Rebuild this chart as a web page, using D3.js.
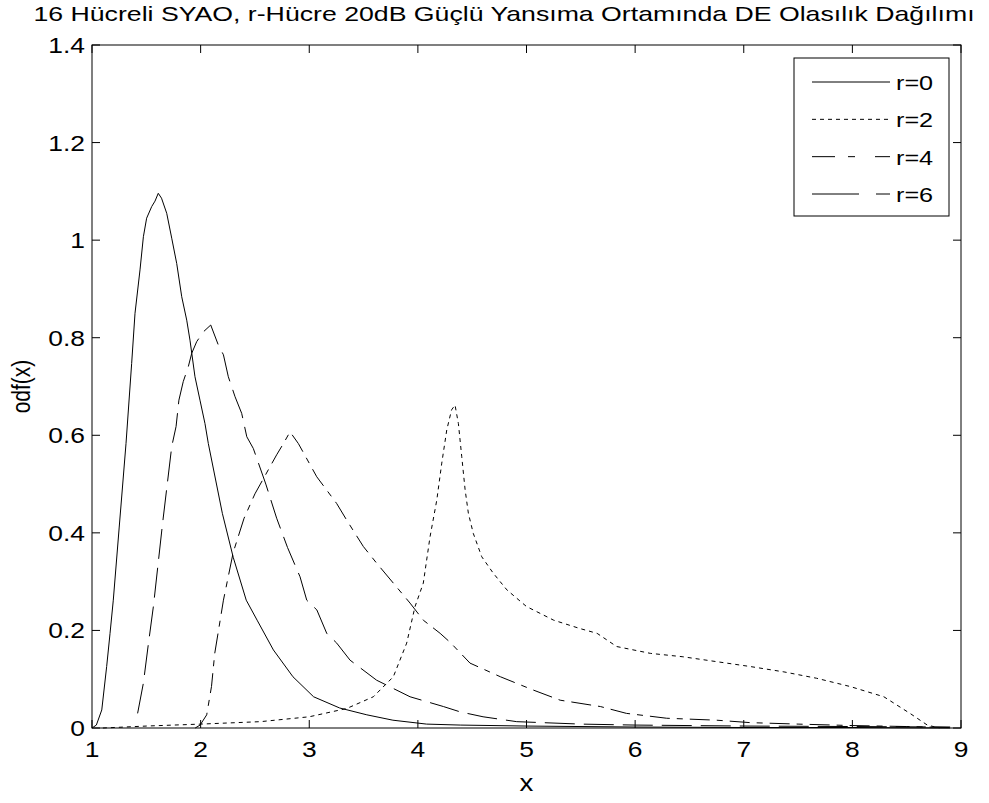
<!DOCTYPE html>
<html>
<head>
<meta charset="utf-8">
<script src="https://cdn.jsdelivr.net/npm/d3@7/dist/d3.min.js"></script>
<style>
  body { margin: 0; background: #fff; }
  svg { display: block; }
  text { font-family: Arial, "Liberation Sans", Helvetica, sans-serif; fill: #000; }
</style>
</head>
<body>
<div id="chart"></div>
<script>
// chart text
const titleText = "16 Hücreli SYAO, r-Hücre 20dB Güçlü Yansıma Ortamında DE Olasılık Dağılımı";
const xLabel = "x";
const yLabel = "odf(x)";
const xTicks = [1, 2, 3, 4, 5, 6, 7, 8, 9];
const yTicks = [0, 0.2, 0.4, 0.6, 0.8, 1, 1.2, 1.4];
const seriesNames = ["r=0", "r=2", "r=4", "r=6"];

// r=0 (solid)
const r0X = [1.0, 1.04, 1.09, 1.135, 1.166, 1.196, 1.25, 1.313, 1.365, 1.396, 1.442, 1.473, 1.503, 1.55, 1.58, 1.61, 1.64, 1.688, 1.734, 1.78, 1.826, 1.872, 1.902, 1.948, 1.994, 2.04, 2.071, 2.2, 2.3, 2.42, 2.52, 2.67, 2.85, 3.04, 3.28, 3.53, 3.77, 4.08, 4.39, 5.0, 6.0, 7.0, 8.0, 8.9];
const r0Y = [0.0, 0.006, 0.037, 0.126, 0.194, 0.262, 0.41, 0.583, 0.747, 0.85, 0.939, 1.007, 1.045, 1.069, 1.08, 1.096, 1.086, 1.055, 1.004, 0.952, 0.884, 0.836, 0.795, 0.72, 0.672, 0.624, 0.583, 0.44, 0.35, 0.262, 0.221, 0.16, 0.105, 0.064, 0.041, 0.027, 0.016, 0.008, 0.006, 0.004, 0.002, 0.001, 0.001, 0.0];

// r=2 (short dashes)
const r2X = [1.1, 1.5, 2.0, 2.55, 3.0, 3.345, 3.59, 3.774, 3.897, 3.974, 4.05, 4.112, 4.174, 4.22, 4.266, 4.31, 4.342, 4.373, 4.404, 4.435, 4.465, 4.51, 4.588, 4.695, 4.82, 5.0, 5.25, 5.49, 5.65, 5.83, 6.14, 6.44, 6.75, 7.06, 7.37, 7.67, 7.98, 8.29, 8.53, 8.69, 8.8];
const r2Y = [0.0, 0.004, 0.008, 0.013, 0.023, 0.04, 0.064, 0.105, 0.174, 0.249, 0.297, 0.392, 0.467, 0.543, 0.611, 0.652, 0.662, 0.624, 0.556, 0.488, 0.44, 0.399, 0.351, 0.317, 0.283, 0.249, 0.221, 0.204, 0.194, 0.167, 0.153, 0.146, 0.136, 0.126, 0.115, 0.102, 0.085, 0.064, 0.03, 0.006, 0.0];

// r=4 (dash-dot)
const r4X = [1.95, 1.995, 2.056, 2.1, 2.13, 2.18, 2.21, 2.3, 2.4, 2.5, 2.6, 2.7, 2.762, 2.823, 2.9, 3.069, 3.253, 3.345, 3.498, 3.62, 3.774, 3.928, 4.05, 4.205, 4.3, 4.48, 4.76, 5.06, 5.31, 5.68, 5.92, 6.29, 6.75, 7.06, 7.5, 8.0, 8.5, 8.9];
const r4Y = [0.0, 0.006, 0.027, 0.085, 0.153, 0.221, 0.262, 0.36, 0.43, 0.48, 0.52, 0.56, 0.583, 0.607, 0.583, 0.515, 0.46, 0.426, 0.372, 0.338, 0.297, 0.256, 0.221, 0.194, 0.175, 0.133, 0.105, 0.078, 0.057, 0.044, 0.03, 0.02, 0.016, 0.011, 0.008, 0.005, 0.003, 0.001];

// r=6 (long dashes)
const r6X = [1.42, 1.473, 1.52, 1.565, 1.65, 1.734, 1.774, 1.8, 1.84, 1.887, 1.918, 1.964, 2.025, 2.093, 2.163, 2.21, 2.255, 2.317, 2.378, 2.425, 2.485, 2.6, 2.7, 2.8, 2.915, 2.977, 3.07, 3.161, 3.253, 3.376, 3.62, 3.928, 4.235, 4.39, 4.6, 4.91, 5.5, 6.0, 7.0, 8.0, 8.9];
const r6Y = [0.03, 0.092, 0.174, 0.249, 0.42, 0.577, 0.618, 0.672, 0.71, 0.741, 0.768, 0.792, 0.812, 0.826, 0.785, 0.765, 0.72, 0.679, 0.645, 0.597, 0.573, 0.5, 0.43, 0.37, 0.31, 0.262, 0.242, 0.194, 0.174, 0.139, 0.098, 0.064, 0.044, 0.033, 0.023, 0.013, 0.008, 0.006, 0.004, 0.003, 0.002];

const width = 989;
const height = 803;
const margin = { top: 45, right: 28, bottom: 75, left: 92 };
const sx = 1.2; // glyphs in the picture are stretched sideways

const svg = d3.select("#chart").append("svg")
  .attr("width", width)
  .attr("height", height);

const x = d3.scaleLinear().domain([1, 9]).range([margin.left, width - margin.right]);
const y = d3.scaleLinear().domain([0, 1.4]).range([height - margin.bottom, margin.top]);

function label(g, px, py, str, size, anchor, rot, stretch) {
  const k = stretch || sx;
  const tr = rot
    ? `translate(${px},${py}) rotate(-90) scale(1,${k})`
    : `translate(${px},${py}) scale(${k},1)`;
  return g.append("text")
    .attr("transform", tr)
    .attr("text-anchor", anchor)
    .attr("font-size", size)
    .text(str);
}

// series, drawn under the box
const series = [
  { name: seriesNames[0], xs: r0X, ys: r0Y, dash: null, legendDash: null },
  { name: seriesNames[1], xs: r2X, ys: r2Y, dash: "4,4", legendDash: "4,4" },
  { name: seriesNames[2], xs: r4X, ys: r4Y, dash: "20,7,6,7", legendDash: "23,13,7,20" },
  { name: seriesNames[3], xs: r6X, ys: r6Y, dash: "30,9", legendDash: "47,17" }
];

const line = d3.line().x(d => x(d[0])).y(d => y(d[1]));

svg.append("g").selectAll("path")
  .data(series)
  .join("path")
  .attr("d", s => line(d3.zip(s.xs, s.ys)))
  .attr("fill", "none")
  .attr("stroke", "#000")
  .attr("stroke-width", 1)
  .attr("stroke-dasharray", s => s.dash);

// axes: ticks inside, mirrored on top and right
const tickLen = 8;
const axes = svg.append("g").attr("stroke", "#000").attr("stroke-width", 1).attr("fill", "none");
axes.append("rect")
  .attr("x", x(1)).attr("y", y(1.4))
  .attr("width", x(9) - x(1)).attr("height", y(0) - y(1.4));

xTicks.forEach(t => {
  axes.append("line").attr("x1", x(t)).attr("x2", x(t)).attr("y1", y(0)).attr("y2", y(0) - tickLen);
  axes.append("line").attr("x1", x(t)).attr("x2", x(t)).attr("y1", y(1.4)).attr("y2", y(1.4) + tickLen);
});
yTicks.forEach(t => {
  axes.append("line").attr("x1", x(1)).attr("x2", x(1) + tickLen).attr("y1", y(t)).attr("y2", y(t));
  axes.append("line").attr("x1", x(9)).attr("x2", x(9) - tickLen).attr("y1", y(t)).attr("y2", y(t));
});

const texts = svg.append("g");
xTicks.forEach(t => label(texts, x(t), y(0) + 29, d3.format("~g")(t), 22, "middle"));
yTicks.forEach(t => label(texts, x(1) - 7, y(t) + 8, d3.format("~g")(t), 22, "end"));

label(texts, (x(1) + x(9)) / 2, height - 12, xLabel, 23, "middle");
label(texts, 30, (y(0) + y(1.4)) / 2, yLabel, 21, "middle", true);
label(texts, 504, 21, titleText, 21, "middle", false, 1.27);

// legend
const lg = svg.append("g");
lg.append("rect")
  .attr("x", 794).attr("y", 58).attr("width", 155).attr("height", 158)
  .attr("fill", "#fff").attr("stroke", "#000").attr("stroke-width", 1);

const rowY = d3.scalePoint().domain(seriesNames).range([82, 194]);
series.forEach(s => {
  lg.append("line")
    .attr("x1", 812).attr("x2", 890)
    .attr("y1", rowY(s.name)).attr("y2", rowY(s.name))
    .attr("stroke", "#000").attr("stroke-width", 1)
    .attr("stroke-dasharray", s.legendDash);
  label(lg, 896, rowY(s.name) + 8, s.name, 21, "start");
});
</script>
</body>
</html>
